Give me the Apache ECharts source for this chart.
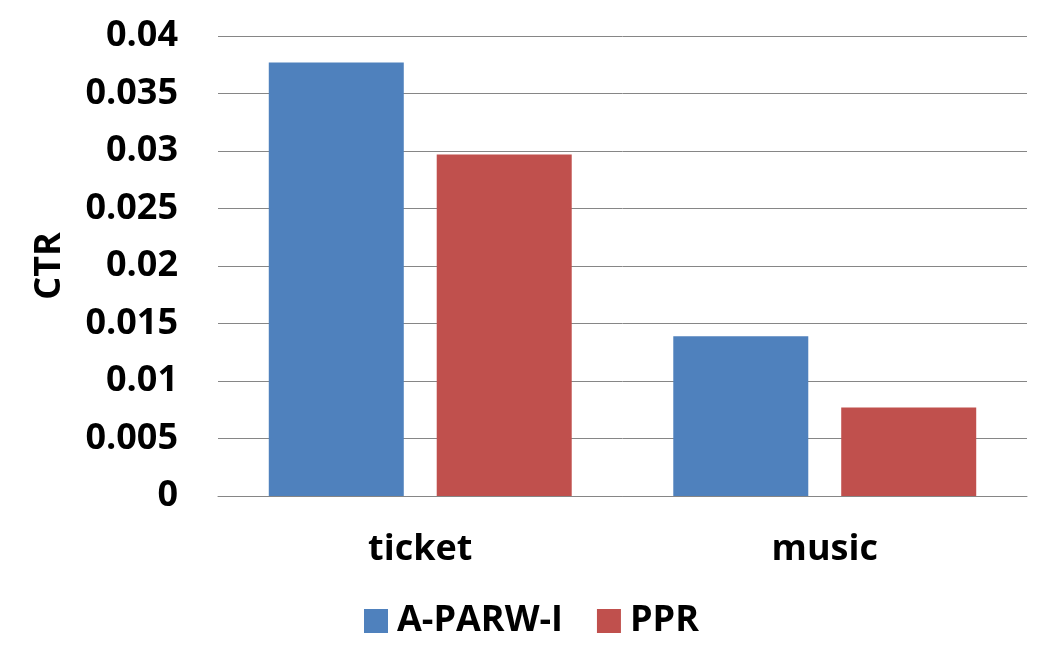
<!DOCTYPE html>
<html>
<head>
<meta charset="utf-8">
<script src="https://cdn.jsdelivr.net/npm/echarts@6/dist/echarts.min.js"></script>
<style>html,body{margin:0;padding:0;background:#fff;}#c{width:1050px;height:664px;}</style>
</head>
<body>
<div id="c"></div>
<script>
const categories = ['ticket', 'music'];
const seriesNames = ['A-PARW-I', 'PPR'];
const aparwData = [0.0377, 0.0139];
const pprData = [0.0297, 0.0077];
const yTicks = [0, 0.005, 0.01, 0.015, 0.02, 0.025, 0.03, 0.035, 0.04];

const chart = echarts.init(document.getElementById('c'));
const font = '"Open Sans", "Liberation Sans", sans-serif';
chart.setOption({
  animation: false,
  backgroundColor: '#fff',
  grid: { left: 218, right: 23, top: 36, bottom: 168, containLabel: false },
  legend: {
    data: seriesNames,
    bottom: 20,
    left: 359,
    itemWidth: 24,
    itemHeight: 24,
    itemGap: 34,
    icon: 'rect',
    textStyle: { fontFamily: font, fontWeight: 'bold', fontSize: 36, color: '#000', padding: [0,0,0,4] }
  },
  xAxis: {
    type: 'category',
    data: categories,
    axisLine: { show: true, lineStyle: { color: '#868686', width: 1 } },
    axisTick: { show: false },
    axisLabel: { fontFamily: font, fontWeight: 'bold', fontSize: 36, color: '#000', margin: 36 }
  },
  yAxis: {
    type: 'value',
    min: 0,
    max: 0.04,
    interval: 0.005,
    name: 'CTR',
    nameLocation: 'middle',
    nameGap: 150,
    nameTextStyle: { fontFamily: font, fontWeight: 'bold', fontSize: 36, color: '#000' },
    axisLine: { show: false },
    axisTick: { show: false },
    splitLine: { lineStyle: { color: '#868686', width: 1 } },
    axisLabel: {
      fontFamily: font, fontWeight: 'bold', fontSize: 36, color: '#000', margin: 40,
      formatter: v => { const t = yTicks.find(x => Math.abs(x - v) < 1e-9); return String(t !== undefined ? t : v); }
    }
  },
  series: [
    { name: seriesNames[0], type: 'bar', data: aparwData, barWidth: 135, barGap: '24.4%', itemStyle: { color: '#4F81BD' } },
    { name: seriesNames[1], type: 'bar', data: pprData, barWidth: 135, itemStyle: { color: '#C0504D' } }
  ]
});
</script>
</body>
</html>
